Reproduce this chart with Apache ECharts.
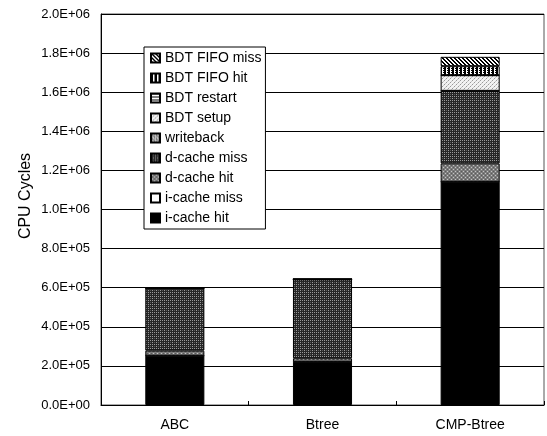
<!DOCTYPE html>
<html>
<head>
<meta charset="utf-8">
<script src="https://cdn.jsdelivr.net/npm/echarts@6/dist/echarts.min.js"></script>
<style>
html,body{margin:0;padding:0;background:#fff;}
#chart{width:547px;height:436px;}
</style>
</head>
<body>
<div id="chart"></div>
<script>
const categories = ['ABC', 'Btree', 'CMP-Btree'];
const seriesNames = ['i-cache hit', 'i-cache miss', 'd-cache hit', 'd-cache miss', 'writeback', 'BDT setup', 'BDT restart', 'BDT FIFO hit', 'BDT FIFO miss'];
const iCacheHit = [252000, 221000, 1142000];
const iCacheMiss = [0, 0, 0];
const dCacheHit = [26000, 18000, 94000];
const dCacheMiss = [322000, 404000, 371000];
const writeback = [0, 0, 0];
const bdtSetup = [0, 0, 80000];
const bdtRestart = [0, 0, 0];
const bdtFifoHit = [0, 0, 46000];
const bdtFifoMiss = [0, 0, 48000];
const yTicks = [0, 200000, 400000, 600000, 800000, 1000000, 1200000, 1400000, 1600000, 1800000, 2000000];

function pat(size, bg, pixels) {
  const c = document.createElement('canvas');
  c.width = size; c.height = size;
  const g = c.getContext('2d');
  g.fillStyle = bg; g.fillRect(0, 0, size, size);
  pixels.forEach(p => { g.fillStyle = p[2]; g.fillRect(p[0], p[1], 1, 1); });
  return { image: c, repeat: 'repeat' };
}
function lines(size, bg, fg, test) {
  const px = [];
  for (let x = 0; x < size; x++) for (let y = 0; y < size; y++) if (test(x, y)) px.push([x, y, fg]);
  return pat(size, bg, px);
}

const fills = [
  '#000000',
  '#ffffff',
  pat(4, '#7c7c7c', [[1, 1, '#c4c4c4'], [3, 3, '#c4c4c4'], [3, 1, '#5a5a5a'], [1, 3, '#5a5a5a']]),
  pat(4, '#262626', [[0, 0, '#9a9a9a'], [2, 0, '#9a9a9a'], [0, 2, '#9a9a9a'], [2, 2, '#5a5a5a']]),
  pat(4, '#9a9a9a', [[0, 0, '#e6e6e6'], [2, 0, '#e6e6e6'], [0, 2, '#e6e6e6'], [1, 1, '#5a5a5a'], [3, 3, '#6a6a6a']]),
  pat(4, '#f2f2f2', [[0, 0, '#9a9a9a'], [2, 2, '#9a9a9a'], [1, 3, '#c8c8c8'], [3, 1, '#c8c8c8']]),
  lines(3, '#ffffff', '#000000', (x, y) => y === 0),
  lines(4, '#ffffff', '#000000', (x, y) => x < 2 || x === 3 && y % 2 === 0),
  lines(4, '#ffffff', '#000000', (x, y) => ((x - y) % 4 + 4) % 4 < 2)
];
const dataArr = [iCacheHit, iCacheMiss, dCacheHit, dCacheMiss, writeback, bdtSetup, bdtRestart, bdtFifoHit, bdtFifoMiss];

function fmt(v) {
  if (v === 0) return '0.0E+00';
  const e = Math.floor(Math.log10(v) + 1e-9);
  const m = v / Math.pow(10, e);
  return m.toFixed(1) + 'E+' + (e < 10 ? '0' + e : e);
}

const FONT = '"Liberation Sans", Arial, sans-serif';
const chart = echarts.init(document.getElementById('chart'), null, { renderer: 'canvas' });
chart.setOption({
  animation: false,
  backgroundColor: '#ffffff',
  grid: { left: 101, right: 3, top: 14, bottom: 31, show: true, borderColor: '#555', borderWidth: 1 },
  legend: {
    orient: 'vertical', left: 144, top: 47,
    data: seriesNames.slice().reverse().map(n => ({ name: n, icon: 'rect' })),
    itemWidth: 9, itemHeight: 9, itemGap: 4,
    padding: [3, 4, 3, 6],
    borderColor: '#000', borderWidth: 1, backgroundColor: '#fff',
    textStyle: { fontFamily: FONT, fontSize: 14, color: '#000', lineHeight: 16 }
  },
  graphic: [{
    type: 'text', rotation: Math.PI / 2, x: 26, y: 196,
    style: { text: 'CPU Cycles', font: '16px ' + FONT, fill: '#000', textAlign: 'center', textVerticalAlign: 'middle' }
  }],
  xAxis: {
    type: 'category', data: categories,
    axisLine: { lineStyle: { color: '#000', width: 1 } },
    axisTick: { show: true, inside: true, length: 4, alignWithLabel: false, lineStyle: { color: '#000' } },
    axisLabel: { fontFamily: FONT, fontSize: 14, color: '#000', margin: 13 }
  },
  yAxis: {
    type: 'value', min: yTicks[0], max: yTicks[yTicks.length - 1], interval: yTicks[1] - yTicks[0],
    axisLine: { show: true, lineStyle: { color: '#000', width: 1 } },
    axisTick: { show: false },
    splitLine: { lineStyle: { color: '#000', width: 1 } },
    axisLabel: { fontFamily: FONT, fontSize: 13, color: '#000', margin: 11, formatter: fmt }
  },
  series: seriesNames.map((n, i) => ({
    name: n, type: 'bar', stack: 'total', barWidth: '40%',
    data: dataArr[i],
    itemStyle: { color: fills[i], borderColor: '#000', borderWidth: 1 }
  }))
});
</script>
</body>
</html>
